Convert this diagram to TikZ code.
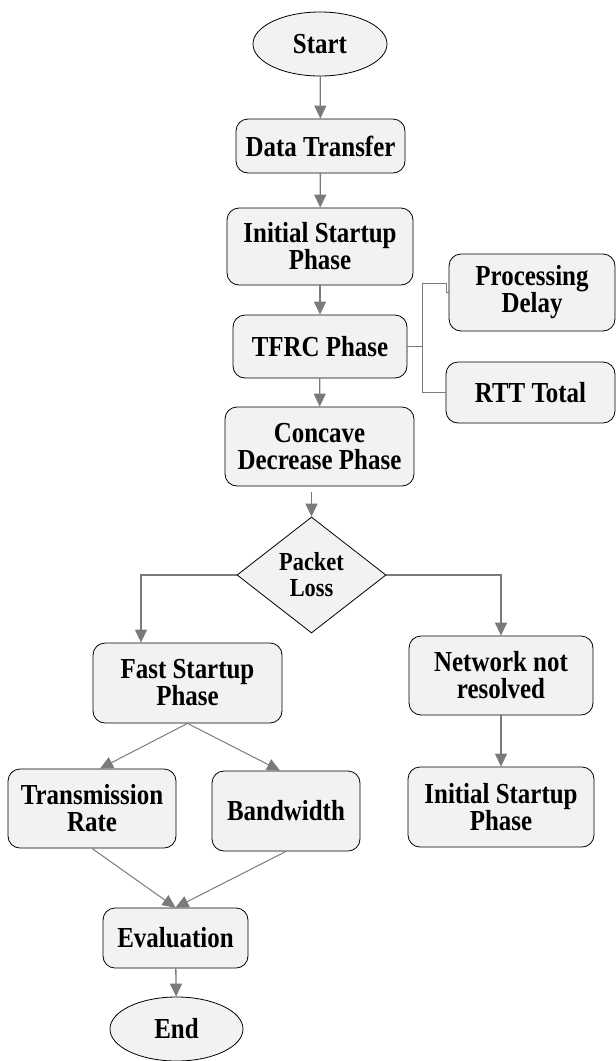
\documentclass[tikz,border=0pt]{standalone}
\usepackage{fontspec}
\setmainfont{Liberation Serif}[FakeStretch=0.86]
\usetikzlibrary{shapes.geometric,arrows.meta,calc}

\definecolor{boxfill}{HTML}{F2F2F2}
\definecolor{linkgray}{HTML}{7A7A7A}

\tikzset{
  procbox/.style={draw=black, line width=0.8pt, fill=boxfill, rounded corners=12pt,
    align=center, inner sep=0pt, font=\bfseries\fontsize{29}{27}\selectfont},
  termnode/.style={ellipse, draw=black, line width=0.8pt, fill=boxfill, inner sep=0pt,
    align=center, font=\bfseries\fontsize{29}{27}\selectfont},
  decision/.style={diamond, draw=black, line width=0.8pt, fill=boxfill, inner sep=0pt,
    align=center, font=\bfseries\fontsize{26}{26}\selectfont},
  flow/.style={draw=linkgray, line width=1.3pt, -{Triangle[length=13pt,width=12pt]}},
  thinflow/.style={draw=linkgray, line width=1pt, -{Triangle[length=13pt,width=12pt]}},
  link/.style={draw=linkgray, line width=1pt},
}

\begin{document}
\begin{tikzpicture}[x=1pt,y=-1pt]
\useasboundingbox (0,0) rectangle (616,1061);

% main column
\node[termnode, minimum width=134pt, minimum height=64pt] (start) at (320,44) {Start};
\node[procbox, minimum width=169pt, minimum height=54pt] (data) at (320.5,146) {Data Transfer};
\node[procbox, minimum width=186pt, minimum height=77pt] (init1) at (320,246.5) {Initial Startup\\Phase};
\node[procbox, minimum width=174pt, minimum height=63pt] (tfrc) at (320,346.5) {TFRC Phase};
\node[procbox, minimum width=189pt, minimum height=79pt] (concave) at (319.5,446.5) {Concave\\Decrease Phase};

% TFRC side nodes
\node[procbox, minimum width=166pt, minimum height=77pt] (proc) at (532,292.5) {Processing\\Delay};
\node[procbox, minimum width=169pt, minimum height=61pt] (rtt) at (530.5,392.5) {RTT Total};

% decision and branches
\node[decision, minimum width=149pt, minimum height=116pt] (dia) at (311.5,575) {Packet\\Loss};
\node[procbox, minimum width=189pt, minimum height=80pt] (fast) at (187.5,683) {Fast Startup\\Phase};
\node[procbox, minimum width=184pt, minimum height=79pt] (net) at (501,675.5) {Network not\\resolved};
\node[procbox, minimum width=186pt, minimum height=80pt] (init2) at (501,807) {Initial Startup\\Phase};
\node[procbox, minimum width=168pt, minimum height=79pt] (trans) at (92,808.5) {Transmission\\Rate};
\node[procbox, minimum width=148pt, minimum height=80pt] (band) at (286,811) {Bandwidth};
\node[procbox, minimum width=145pt, minimum height=60pt] (eval) at (175.5,938) {Evaluation};
\node[termnode, minimum width=133pt, minimum height=64pt] (end) at (176.5,1029) {End};

% vertical flow
\draw[flow] (start) -- (data);
\draw[flow] (data) -- (init1);
\draw[flow] (init1) -- (tfrc);
\draw[flow] (tfrc) -- (concave);
\draw[flow, shorten <=6pt] (dia.north |- concave.south) -- (dia.north);

% TFRC bracket to side nodes
\coordinate (bus) at (422,346.5);
\coordinate (bustop) at (446,283);
\draw[link] (tfrc.east) -- (bus);
\draw[link] (bus) |- (bustop) |- (proc.west);
\draw[link] (bus) |- (rtt.west);

% decision branches
\draw[flow] (dia.west) -| ([xshift=-46.5pt]fast.north);
\draw[flow] (dia.east) -| (net.north);
\draw[flow] (net) -- (init2);

% fast startup fan-out and merge
\draw[thinflow] (fast.south) -- ([xshift=8pt]trans.north);
\draw[thinflow] (fast.south) -- ([xshift=-6pt]band.north);
\draw[thinflow] (trans.south) -- (eval.north);
\draw[thinflow] (band.south) -- (eval.north);
\draw[flow] (eval) -- (end);
\end{tikzpicture}
\end{document}
